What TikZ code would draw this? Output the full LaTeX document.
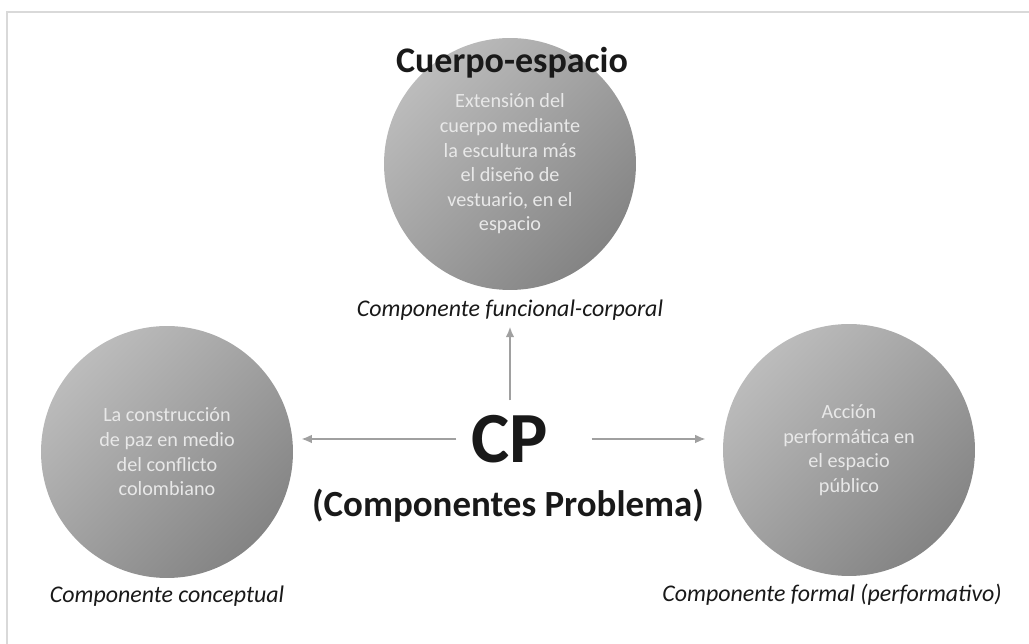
\documentclass[tikz,border=0pt]{standalone}
\usepackage{fontspec}
\setmainfont{Carlito}
\usetikzlibrary{positioning,arrows.meta}
\definecolor{frame1}{RGB}{217,217,217}
\definecolor{link1}{RGB}{160,160,160}
\definecolor{disc1}{RGB}{188,188,188}
\definecolor{disc2}{RGB}{132,132,132}
\definecolor{ink1}{RGB}{232,232,232}
\definecolor{label1}{RGB}{25,25,25}

\begin{document}
\begin{tikzpicture}[x=0.02cm, y=-0.02cm,
  disc/.style={circle, minimum size=5.04cm, inner sep=0pt, align=center,
    top color=disc1, bottom color=disc2, shading angle=45,
    text=ink1, font=\fontsize{11.5}{14}\selectfont},
  caption/.style={text=label1, font=\fontsize{13.6}{16}\selectfont\itshape},
  conn/.style={draw=link1, line width=1.1pt, -{Latex[length=6pt,width=5pt]}}]
\useasboundingbox (0,0) rectangle (1029,644);
\draw[frame1, line width=0.8pt] (7,12) rectangle (1040,660);
\node[disc] (body) at (510,164) {Extensión del\\cuerpo mediante\\la escultura más\\el diseño de\\vestuario, en el\\espacio};
\node[disc] (concept) at (167,452) {La construcción\\de paz en medio\\del conflicto\\colombiano};
\node[disc] (formal) at (849,450) {Acción\\performática en\\el espacio\\público};
\node[anchor=base, text=label1, font=\fontsize{20.5}{24}\selectfont\bfseries] (bodyT) at (512,73) {Cuerpo-espacio};
\node[caption, below=2pt of body] (bodyC) {Componente funcional-corporal};
\node[caption, below=1pt of concept] (conceptC) {Componente conceptual};
\node[caption, below=1pt of formal, xshift=-17*0.02cm] (formalC) {Componente formal (performativo)};
\node[anchor=base, text=label1, inner sep=0pt, font=\fontsize{41}{44}\selectfont\bfseries] (cp) at (510,463) {CP};
\node[anchor=base, text=label1, font=\fontsize{21}{25}\selectfont\bfseries] (cpT) at (508,517) {(Componentes Problema)};
\coordinate (row) at (510,439);
\draw[conn] ([yshift=15*0.02cm]cp.north) -- (bodyC.south);
\draw[conn] ([xshift=-15*0.02cm]cp.west |- row) -- ([xshift=8*0.02cm]concept.east |- row);
\draw[conn] ([xshift=43*0.02cm]cp.east |- row) -- ([xshift=-17*0.02cm]formal.west |- row);
\end{tikzpicture}
\end{document}
